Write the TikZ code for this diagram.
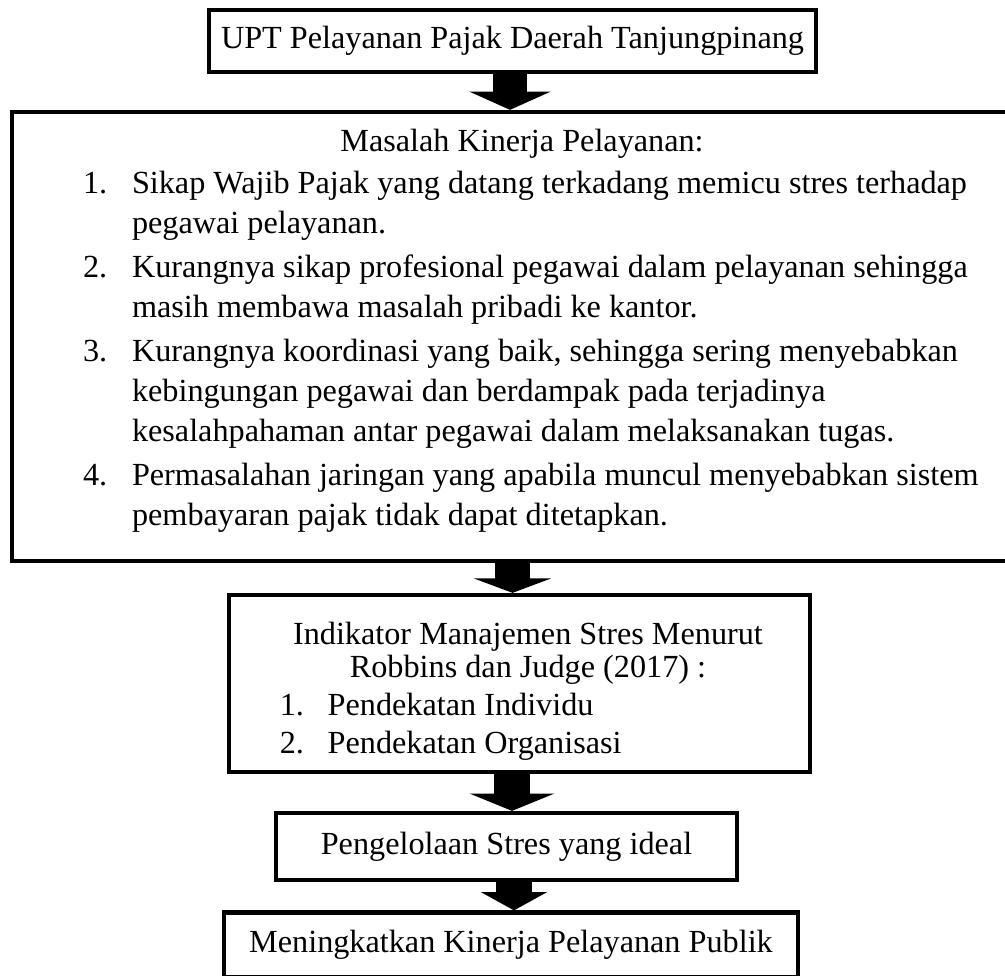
\documentclass[tikz,border=0pt]{standalone}
\usepackage{fontspec}
\setmainfont{Liberation Serif}
\usepackage{tikz}
\usetikzlibrary{arrows.meta, positioning}
\tikzset{
    box/.style ={rectangle, draw, line width=2pt, inner sep=0pt, align=center,
                 font=\fontsize{15.2}{18}\selectfont},
    blockarrow/.style n args={3}{line width=#1,
                 -{Triangle[width=#2, length=#3, line width=1pt]}}
    }

\begin{document}
\begin{tikzpicture}[x=0.4717pt, y=-0.4717pt]
    \useasboundingbox (0,0) rectangle (1005,976);

    \node (upt) at (512.5,41) [box, minimum width=286.3pt, minimum height=29.2pt]
        {UPT Pelayanan Pajak Daerah Tanjungpinang};

    \node (masalah) at (522,336.5) [box, minimum width=481.1pt, minimum height=211.8pt]
        {\parbox{481.1pt}{\fontsize{15.2}{18.9}\selectfont
         \centering Masalah Kinerja Pelayanan:\par\vspace{0.9pt}
         \raggedright\hspace*{33.5pt}\begin{tabular}[t]{@{}p{23.1pt}@{}l@{}}
         1. & Sikap Wajib Pajak yang datang terkadang memicu stres terhadap\\
            & pegawai pelayanan.\\[1.9pt]
         2. & Kurangnya sikap profesional pegawai dalam pelayanan sehingga\\
            & masih membawa masalah pribadi ke kantor.\\[1.9pt]
         3. & Kurangnya koordinasi yang baik, sehingga sering menyebabkan\\
            & kebingungan pegawai dan berdampak pada terjadinya\\
            & kesalahpahaman antar pegawai dalam melaksanakan tugas.\\[1.9pt]
         4. & Permasalahan jaringan yang apabila muncul menyebabkan sistem\\
            & pembayaran pajak tidak dapat ditetapkan.
         \end{tabular}\par\vspace*{3pt}}};

    \node (indikator) at (519.5,683.5) [box, minimum width=274.1pt, minimum height=83.5pt]
        {\parbox{274.1pt}{\vspace*{9pt}\fontsize{15.2}{15.6}\selectfont
         \centering\hspace*{8pt}Indikator Manajemen Stres Menurut\\
         \hspace*{8pt}Robbins dan Judge (2017) :\par
         \fontsize{15.2}{17.9}\selectfont
         \raggedright\hspace*{24pt}\begin{tabular}[t]{@{}p{22.6pt}@{}l@{}}
         1. & Pendekatan Individu\\
         2. & Pendekatan Organisasi
         \end{tabular}}};

    \node (ideal) at (506.5,846.5) [box, minimum width=217.5pt, minimum height=31.6pt]
        {Pengelolaan Stres yang ideal};

    \node (publik) at (511,945) [box, minimum width=270.8pt, minimum height=30.66pt]
        {Meningkatkan Kinerja Pelayanan Publik};

    \coordinate (a1) at (510,0);
    \coordinate (a2) at (512.5,0);
    \coordinate (a3) at (512,0);
    \coordinate (a4) at (514,0);

    \draw[blockarrow={16pt}{38.2pt}{8.6pt}] (upt.south -| a1) -- (masalah.north -| a1);
    \draw[blockarrow={16.5pt}{36.3pt}{6.8pt}] (masalah.south -| a2) -- (indikator.north -| a2);
    \draw[blockarrow={17pt}{40pt}{8.2pt}] (indikator.south -| a3) -- (ideal.north -| a3);
    \draw[blockarrow={17pt}{31pt}{8.6pt}] (ideal.south -| a4) -- (publik.north -| a4);
\end{tikzpicture}
\end{document}
